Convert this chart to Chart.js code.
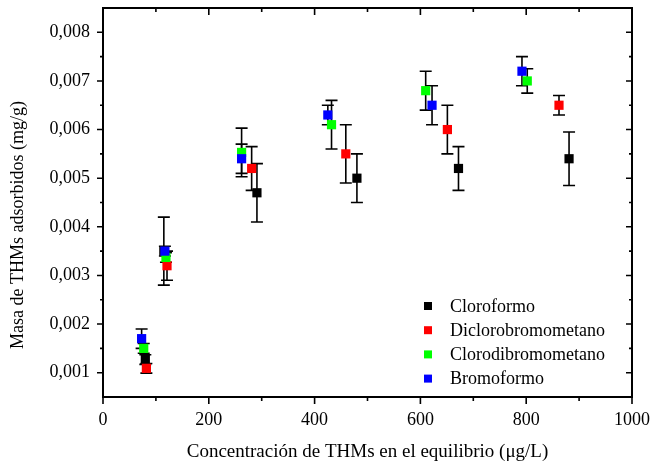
<!DOCTYPE html>
<html>
<head>
<meta charset="utf-8">
<script src="https://cdn.jsdelivr.net/npm/chart.js@4.4.0/dist/chart.umd.min.js"></script>
<style>
  html, body { margin: 0; padding: 0; background: #fff; }
</style>
</head>
<body>
<canvas id="chart" width="665" height="469"></canvas>
<script>
// data
const seriesNames = ['Cloroformo', 'Diclorobromometano', 'Clorodibromometano', 'Bromoformo'];
const seriesColors = ['#000000', '#ff0000', '#00ff00', '#0000ff'];

const cloroformoX = [80, 115, 291, 480, 672, 881];
const cloroformoY = [0.00127, 0.0035, 0.0047, 0.0050, 0.0052, 0.0054];
const cloroformoErr = [0.0001, 0.0007, 0.0006, 0.0005, 0.00045, 0.00055];

const dicloroX = [82, 121, 281, 459, 651, 862];
const dicloroY = [0.00109, 0.0032, 0.0052, 0.0055, 0.0060, 0.0065];
const dicloroErr = [0.0001, 0.0003, 0.00045, 0.0006, 0.0005, 0.0002];

const clorodiX = [77, 119, 262, 432, 610, 802];
const clorodiY = [0.0015, 0.00337, 0.00553, 0.0061, 0.0068, 0.0070];
const clorodiErr = [0.0001, 0.0001, 0.0005, 0.0005, 0.0004, 0.00025];

const bromoX = [73, 117, 262, 425, 622, 792];
const bromoY = [0.0017, 0.0035, 0.0054, 0.0063, 0.0065, 0.0072];
const bromoErr = [0.0002, 0.0001, 0.0003, 0.0002, 0.0004, 0.0003];

const xTicks = [0, 200, 400, 600, 800, 1000];
const yTicks = [0.001, 0.002, 0.003, 0.004, 0.005, 0.006, 0.007, 0.008];

const xTitle = 'Concentración de THMs en el equilibrio (\u03bcg/L)';
const yTitle = 'Masa de THMs adsorbidos (mg/g)';

const FONT = '"Liberation Serif", "Times New Roman", serif';

function points(xs, ys, errs) {
    return xs.map((x, i) => ({ x: x, y: ys[i], err: errs[i] }));
}

const allSeries = [
    points(cloroformoX, cloroformoY, cloroformoErr),
    points(dicloroX, dicloroY, dicloroErr),
    points(clorodiX, clorodiY, clorodiErr),
    points(bromoX, bromoY, bromoErr)
];

// error bars behind the squares
const errorBars = {
    id: 'errorBars',
    beforeDatasetsDraw(chart) {
        const { ctx, scales: { x, y } } = chart;
        ctx.save();
        ctx.strokeStyle = '#000';
        ctx.lineWidth = 1.6;
        chart.data.datasets.forEach(ds => {
            ds.data.forEach(p => {
                const px = x.getPixelForValue(p.x);
                const top = y.getPixelForValue(p.y + p.err);
                const bot = y.getPixelForValue(p.y - p.err);
                ctx.beginPath();
                ctx.moveTo(px, top); ctx.lineTo(px, bot);
                ctx.moveTo(px - 6, top); ctx.lineTo(px + 6, top);
                ctx.moveTo(px - 6, bot); ctx.lineTo(px + 6, bot);
                ctx.stroke();
            });
        });
        ctx.restore();
    }
};

// box frame with major/minor ticks, out on left/bottom, in on right/top
const frame = {
    id: 'frame',
    afterDraw(chart) {
        const { ctx, chartArea: a, scales: { x, y } } = chart;
        ctx.save();
        ctx.strokeStyle = '#000';
        ctx.lineWidth = 2;
        ctx.strokeRect(a.left, a.top, a.right - a.left, a.bottom - a.top);

        ctx.lineWidth = 1.6;
        ctx.beginPath();
        xTicks.forEach((v, i) => {
            const px = x.getPixelForValue(v);
            ctx.moveTo(px, a.bottom); ctx.lineTo(px, a.bottom + 7);
            ctx.moveTo(px, a.top); ctx.lineTo(px, a.top + 7);
            if (i < xTicks.length - 1) {
                const mx = x.getPixelForValue((v + xTicks[i + 1]) / 2);
                ctx.moveTo(mx, a.bottom); ctx.lineTo(mx, a.bottom + 4);
                ctx.moveTo(mx, a.top); ctx.lineTo(mx, a.top + 4);
            }
        });
        const yMinors = yTicks.map(v => v - 0.0005).concat([yTicks[yTicks.length - 1] + 0.0005]);
        yTicks.forEach(v => {
            const py = y.getPixelForValue(v);
            ctx.moveTo(a.left, py); ctx.lineTo(a.left - 6, py);
            ctx.moveTo(a.right, py); ctx.lineTo(a.right - 6, py);
        });
        yMinors.forEach(v => {
            if (v <= y.min || v >= y.max) return;
            const py = y.getPixelForValue(v);
            ctx.moveTo(a.left, py); ctx.lineTo(a.left - 3, py);
            ctx.moveTo(a.right, py); ctx.lineTo(a.right - 3, py);
        });
        ctx.stroke();

        // y title, drawn a bit below the plot centre like the original
        ctx.fillStyle = '#000';
        ctx.font = '18px ' + FONT;
        ctx.textAlign = 'center';
        ctx.textBaseline = 'middle';
        ctx.translate(18, 225);
        ctx.rotate(-Math.PI / 2);
        ctx.fillText(yTitle, 0, 0);
        ctx.restore();

        // legend inside the plot, lower right
        ctx.save();
        ctx.font = '18px ' + FONT;
        ctx.textBaseline = 'middle';
        ctx.fillStyle = '#000';
        chart.data.datasets.forEach((ds, i) => {
            const ry = a.bottom - 91 + i * 24.2;
            ctx.fillStyle = ds.backgroundColor;
            ctx.fillRect(a.right - 208, ry - 4, 8, 8);
            ctx.fillStyle = '#000';
            ctx.fillText(ds.label, a.right - 182, ry + 1);
        });
        ctx.restore();
    }
};

new Chart(document.getElementById('chart'), {
    type: 'scatter',
    data: {
        datasets: allSeries.map((pts, i) => ({
            label: seriesNames[i],
            data: pts,
            backgroundColor: seriesColors[i],
            borderColor: seriesColors[i],
            borderWidth: 0,
            pointStyle: 'rect',
            pointRadius: 6.5,
            pointHoverRadius: 6.5,
            order: 3 - i
        }))
    },
    options: {
        responsive: false,
        animation: false,
        layout: { padding: { top: 8, right: 33, left: 0, bottom: 0 } },
        plugins: {
            legend: { display: false },
            tooltip: { enabled: false }
        },
        scales: {
            x: {
                type: 'linear',
                min: 0,
                max: 1000,
                afterFit: s => { s.height = 72; s.paddingLeft = 0; s.paddingRight = 0; },
                afterBuildTicks: s => { s.ticks = xTicks.map(v => ({ value: v })); },
                grid: { display: false, drawTicks: false },
                border: { display: false },
                ticks: {
                    color: '#000',
                    padding: 12,
                    maxRotation: 0,
                    font: { family: FONT, size: 18 },
                    callback: v => String(v)
                },
                title: {
                    display: true,
                    text: xTitle,
                    color: '#000',
                    padding: { bottom: 6 },
                    font: { family: FONT, size: 19 }
                }
            },
            y: {
                type: 'linear',
                min: 0.0005,
                max: 0.0085,
                afterFit: s => { s.width = 103; s.paddingTop = 0; s.paddingBottom = 0; },
                afterBuildTicks: s => { s.ticks = yTicks.map(v => ({ value: v })); },
                grid: { display: false, drawTicks: false },
                border: { display: false },
                ticks: {
                    color: '#000',
                    padding: 13,
                    font: { family: FONT, size: 18 },
                    callback: v => v.toFixed(3).replace('.', ',')
                },
                title: { display: false, text: yTitle }
            }
        }
    },
    plugins: [errorBars, frame]
});
</script>
</body>
</html>
